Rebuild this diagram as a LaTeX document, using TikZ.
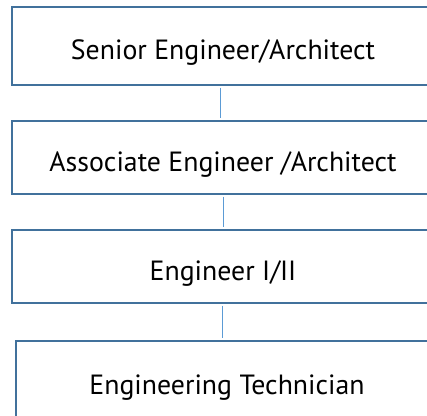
\documentclass[tikz,border=0pt]{standalone}
\usepackage{fontspec}
\setmainfont{PT Sans}
\definecolor{boxline}{HTML}{41719C}
\definecolor{linkline}{HTML}{5B9BD5}
\begin{document}
\begin{tikzpicture}[x=1pt,y=1pt,
  rolebox/.style={draw=boxline, line width=2.7pt, fill=white, inner sep=0pt,
    minimum width=422pt, font=\fontsize{27.8}{32}\selectfont,
    text height=27pt, text depth=0pt},
  link/.style={draw=linkline, line width=1.1pt, shorten <=1.3pt, shorten >=1.3pt}]
\useasboundingbox (0,0) rectangle (427,-415);
\begin{scope}
\clip (0,0) rectangle (427,-415);
\node[rolebox, minimum height=78pt] (senior) at (223,-46) {Senior Engineer/Architect};
\node[rolebox, minimum height=73pt] (assoc) at (223,-157.5) {Associate Engineer /Architect};
\node[rolebox, minimum height=73pt] (eng) at (223,-266.5) {Engineer I/II};
\node[rolebox, minimum height=80pt] (tech) at (227,-381) {Engineering Technician};
\draw[link] ([xshift=-2.3pt]senior.south) -- ([xshift=-2.3pt]assoc.north);
\draw[link] ([xshift=0.3pt]assoc.south) -- ([xshift=0.3pt]eng.north);
\draw[link] ([xshift=-0.3pt]eng.south) -- ([xshift=-4.3pt]tech.north);
\end{scope}
\end{tikzpicture}
\end{document}
